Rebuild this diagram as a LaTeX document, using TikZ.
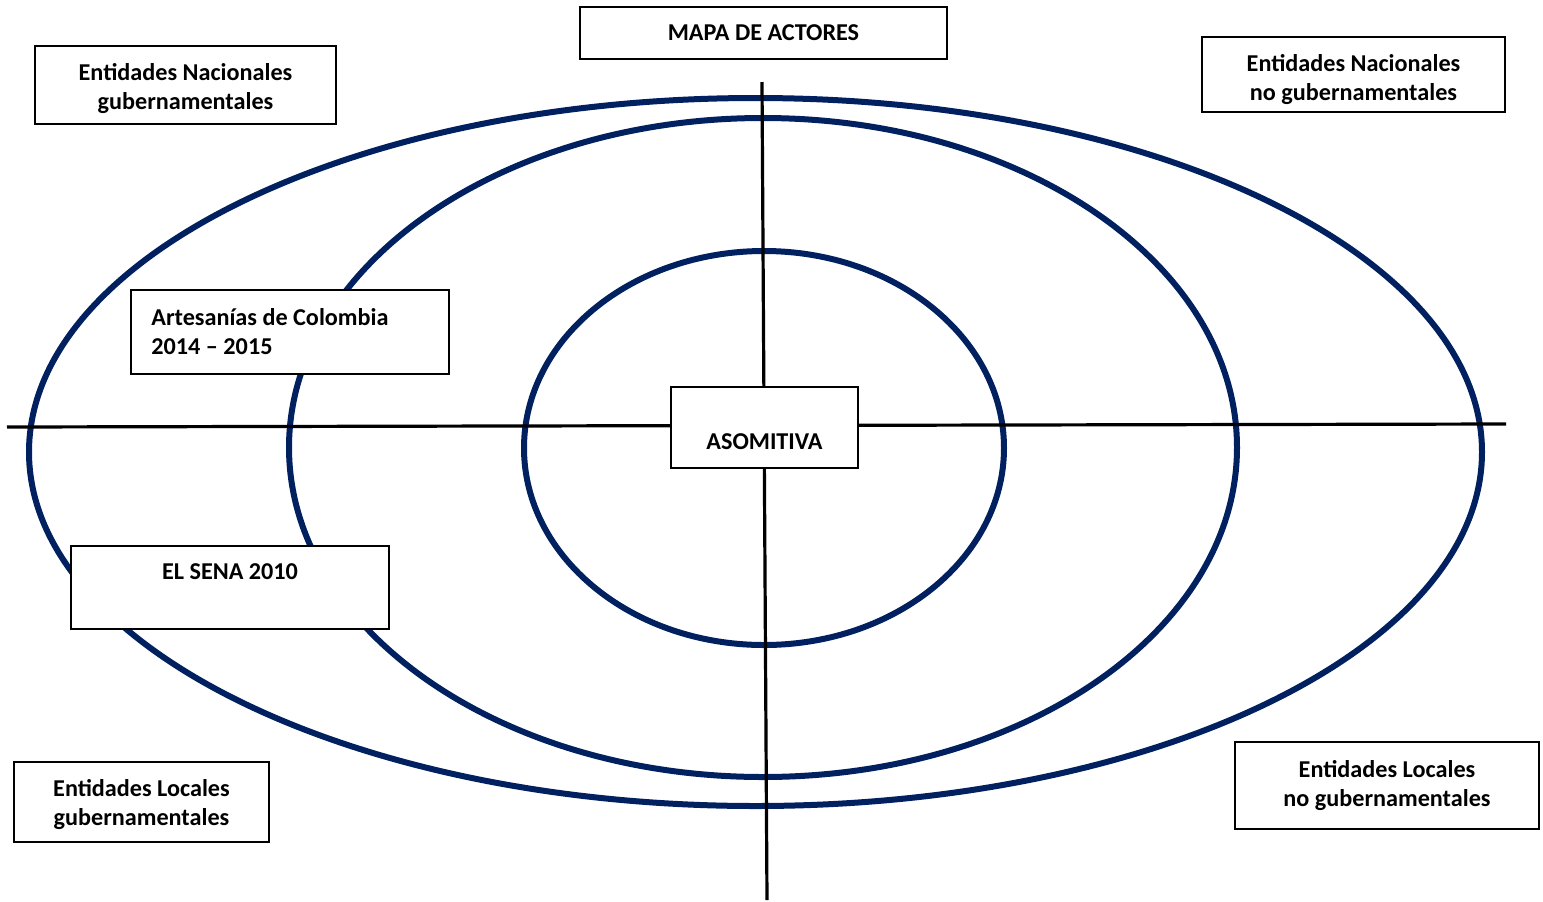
\documentclass[tikz,border=0pt]{standalone}
\usepackage{fontspec}
\setmainfont{Carlito}
\definecolor{navy}{HTML}{002060}
\begin{document}
\begin{tikzpicture}[x=0.5pt,y=-0.5pt,
  ring/.style={draw=navy,line width=3pt},
  axis/.style={draw=black,line width=1.6pt},
  box/.style={draw=black,fill=white,line width=0.9pt,inner sep=0pt},
  txt/.style={font=\bfseries\fontsize{12.1}{14.5}\selectfont,align=center,inner sep=0pt}]
\useasboundingbox (0,0) rectangle (1543,901);
% rings
\draw[ring] (755.5,452) ellipse [x radius=363.25pt, y radius=177pt];
\draw[ring] (763,447.5) ellipse [x radius=237pt, y radius=164.75pt];
\draw[ring] (764,448) ellipse [x radius=120pt, y radius=98.5pt];
% axes
\coordinate (vt) at (762,82);
\coordinate (vb) at (767,900);
\coordinate (hl) at (7,427);
\coordinate (hr) at (1506,424);
\draw[axis] (vt) -- (vb);
\draw[axis] (hl) -- (hr);
% boxes
\node[box,minimum width=183.5pt,minimum height=26pt] (mapa) at (763.5,33) {};
\node[txt] (mapat) at (763.5,33) {MAPA DE ACTORES};
\node[box,minimum width=150.5pt,minimum height=39pt] (ng) at (185.5,85) {};
\node[txt] (ngt) at (185.5,89) {Entidades Nacionales\\gubernamentales};
\node[box,minimum width=151.5pt,minimum height=37.5pt] (nng) at (1353.5,74.5) {};
\node[txt] (nngt) at (1353.5,79.5) {Entidades Nacionales\\no gubernamentales};
\node[box,minimum width=93.5pt,minimum height=40.5pt] (aso) at (764.5,427.5) {};
\node[txt] (asot) at (764.5,442) {ASOMITIVA};
\node[box,minimum width=159pt,minimum height=42pt] (art) at (290,332) {};
\node[txt,align=left,anchor=west] (artt) at (151,332) {Artesanías de Colombia\\2014 – 2015};
\node[box,minimum width=159pt,minimum height=41.5pt] (sena) at (230,587.5) {};
\node[txt] (senat) at (230,572) {EL SENA 2010};
\node[box,minimum width=127.5pt,minimum height=40pt] (lg) at (141.5,802) {};
\node[txt] (lgt) at (141.5,805) {Entidades Locales\\gubernamentales};
\node[box,minimum width=152pt,minimum height=43.5pt] (lng) at (1387,785.5) {};
\node[txt] (lngt) at (1387,785.5) {Entidades Locales\\no gubernamentales};
\end{tikzpicture}
\end{document}
